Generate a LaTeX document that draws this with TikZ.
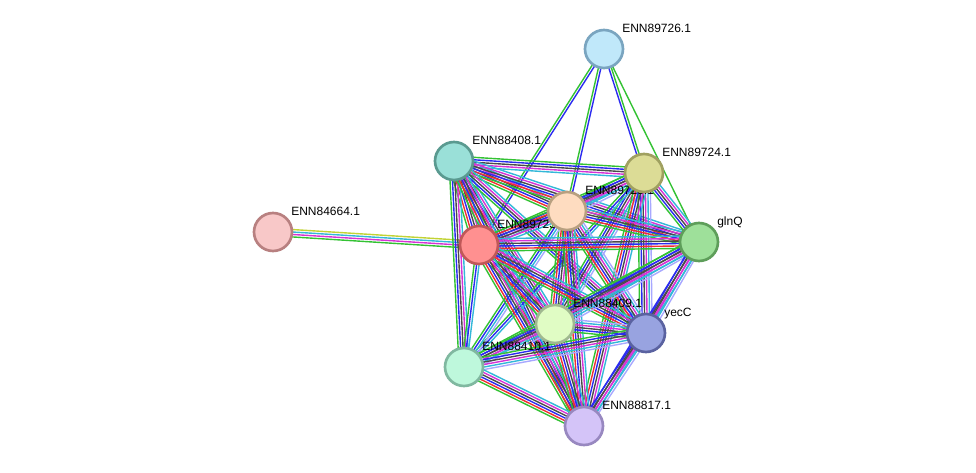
\documentclass[tikz,border=0pt]{standalone}
\usepackage{fontspec}
\setmainfont{Liberation Sans}
\usetikzlibrary{calc}
\pgfdeclarelayer{edges}
\pgfdeclarelayer{labels}
\pgfsetlayers{edges,labels,main}
\definecolor{sgreen}{HTML}{33C233}
\definecolor{sred}{HTML}{F03030}
\definecolor{sblue}{HTML}{2B2BF0}
\definecolor{sblack}{HTML}{4A4A4A}
\definecolor{smag}{HTML}{D633D6}
\definecolor{scyan}{HTML}{33B8D8}
\definecolor{syel}{HTML}{C2D335}
\definecolor{slav}{HTML}{A8A8FF}
\tikzset{
  prot/.style={circle, minimum size=28.5pt, inner sep=0pt, line width=2pt},
  lab/.style={font=\fontsize{9pt}{10pt}\selectfont, inner sep=0pt, anchor=base west},
  eline/.style={line width=1.05pt},
}
\newcommand\stredge[3]{%
  \foreach \c [count=\i] in {#3} {\xdef\ncnt{\i}}%
  \foreach \c [count=\i] in {#3} {%
    \pgfmathsetmacro\off{(\i-(\ncnt+1)/2)*1.85}%
    \draw[eline, color=\c] ($(#1)!\off pt!90:(#2)$) -- ($(#2)!\off pt!-90:(#1)$);
  }%
}
\newcommand\protlab[2]{\node[lab] at ($(#1)+(18,-17)$) {#2};}
\begin{document}
\begin{tikzpicture}[x=0.75pt, y=-0.75pt]
\useasboundingbox (0,0) rectangle (976,472);
\begin{pgfonlayer}{edges}
\fill[white] (0,0) rectangle (976,472);
\end{pgfonlayer}
% nodes
\node[prot, draw={rgb,255:red,122;green,165;blue,192}, fill={rgb,255:red,192;green,232;blue,250}] (A) at (604,49) {};
\node[prot, draw={rgb,255:red,90;green,154;blue,144}, fill={rgb,255:red,154;green,224;blue,216}] (B) at (454,161) {};
\node[prot, draw={rgb,255:red,160;green,160;blue,96}, fill={rgb,255:red,220;green,220;blue,150}] (C) at (644,173) {};
\node[prot, draw={rgb,255:red,184;green,160;blue,128}, fill={rgb,255:red,254;green,220;blue,192}] (D) at (567,211) {};
\node[prot, draw={rgb,255:red,192;green,88;blue,88}, fill={rgb,255:red,255;green,144;blue,144}] (E) at (479,245) {};
\node[prot, draw={rgb,255:red,184;green,128;blue,128}, fill={rgb,255:red,248;green,200;blue,200}] (F) at (273,232) {};
\node[prot, draw={rgb,255:red,94;green,158;blue,90}, fill={rgb,255:red,158;green,224;blue,154}] (G) at (699,242) {};
\node[prot, draw={rgb,255:red,160;green,184;blue,144}, fill={rgb,255:red,224;green,252;blue,196}] (H) at (555,324) {};
\node[prot, draw={rgb,255:red,90;green,98;blue,160}, fill={rgb,255:red,152;green,163;blue,224}] (I) at (646,333) {};
\node[prot, draw={rgb,255:red,128;green,184;blue,160}, fill={rgb,255:red,190;green,248;blue,220}] (J) at (464,367) {};
\node[prot, draw={rgb,255:red,152;green,136;blue,192}, fill={rgb,255:red,212;green,196;blue,248}] (K) at (584,426) {};
% labels
\begin{pgfonlayer}{labels}
\protlab{A}{ENN89726.1}
\protlab{B}{ENN88408.1}
\protlab{C}{ENN89724.1}
\protlab{D}{ENN89725.1}
\protlab{E}{ENN89723.1}
\protlab{F}{ENN84664.1}
\protlab{G}{glnQ}
\protlab{H}{ENN88409.1}
\protlab{I}{yecC}
\protlab{K}{ENN88817.1}
\end{pgfonlayer}
% label of ENN88410.1 lies over the edge of ENN88409.1
\protlab{J}{ENN88410.1}
% edges
\begin{pgfonlayer}{edges}
\stredge{A}{E}{sgreen,sblue}
\stredge{A}{D}{sgreen,sblue}
\stredge{A}{C}{sblue,sgreen}
\stredge{A}{G}{sgreen}
\stredge{F}{E}{sgreen,smag,scyan,syel}
\stredge{B}{C}{scyan,smag,sblack,sblue,sgreen}
\stredge{B}{D}{sgreen,sred,sblue,sblack,smag,scyan}
\stredge{B}{E}{sgreen,sred,sblue,sblack,smag,scyan}
\stredge{B}{G}{sgreen,sred,sblue,sblack,smag,scyan}
\stredge{B}{H}{sgreen,sred,sblue,sblack,smag,scyan}
\stredge{B}{I}{sgreen,sblue,sblack,smag,scyan}
\stredge{B}{J}{sgreen,sblue,sblack,smag,scyan}
\stredge{B}{K}{sgreen,sred,sblue,sblack,smag,scyan}
\stredge{C}{D}{sgreen,sblue,sblack,smag,scyan,slav}
\stredge{C}{E}{sgreen,sblue,sblack,smag,scyan}
\stredge{C}{G}{sgreen,sblue,sblack,smag,scyan}
\stredge{C}{H}{sgreen,sblue,sblack,smag,scyan,slav}
\stredge{C}{I}{sgreen,sblue,sblack,smag,scyan,slav}
\stredge{C}{J}{sgreen,sblue,scyan}
\stredge{C}{K}{sgreen,sred,sblue,sblack,smag,scyan}
\stredge{D}{E}{sgreen,sred,sblue,sblack,smag,scyan}
\stredge{D}{G}{sgreen,sred,sblue,sblack,smag,scyan}
\stredge{D}{H}{sgreen,sred,sblue,sblack,smag,scyan}
\stredge{D}{I}{sgreen,sred,sblue,sblack,smag,scyan,slav}
\stredge{D}{J}{sgreen,sblue,scyan,slav}
\stredge{D}{K}{sgreen,sred,sblue,sblack,smag,scyan}
\stredge{E}{G}{sgreen,sred,sblue,sblack,smag,scyan}
\stredge{E}{H}{sgreen,sred,sblue,sblack,smag,scyan}
\stredge{E}{I}{sgreen,sred,sblue,sblack,smag,scyan}
\stredge{E}{J}{sgreen,sblue,scyan}
\stredge{E}{K}{sgreen,sred,sblue,sblack,smag,scyan}
\stredge{G}{H}{sgreen,sblue,sblack,smag,scyan,slav}
\stredge{G}{I}{sblue,sblack,smag,scyan,slav}
\stredge{G}{J}{sgreen,sblue,sblack,smag,scyan}
\stredge{G}{K}{sblue,sblack,smag,scyan}
\stredge{H}{I}{sgreen,sblue,sblack,smag,scyan,slav}
\stredge{H}{J}{sgreen,sblue,sblack,smag,scyan,slav}
\stredge{H}{K}{sgreen,sred,sblue,sblack,smag,scyan}
\stredge{I}{J}{sgreen,sblue,sblack,smag,scyan,slav}
\stredge{I}{K}{sblue,sblack,smag,scyan,slav}
\stredge{J}{K}{sgreen,sred,sblue,sblack,smag,scyan}
\end{pgfonlayer}
\end{tikzpicture}
\end{document}
